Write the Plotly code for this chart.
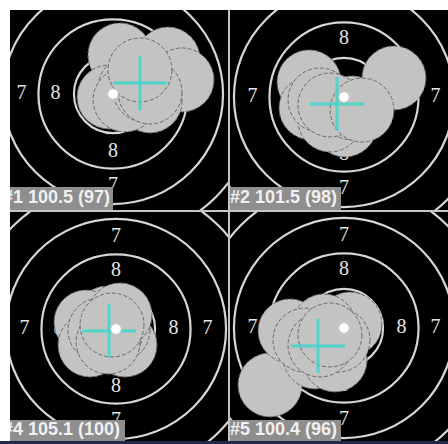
import plotly.graph_objects as go

W, H = 448, 444
S = 14.2  # pixels per mm

# ---- target definition (mm) ----
ring_radii = [2.75, 5.25, 7.75, 10.25, 12.75, 15.25]
ring_label_text = ["8", "7"]
ring_label_dist = [4.05, 6.45]
shot_radius = 2.25
ten_dot_radius = 0.37

# ---- series titles ----
series_titles = ["#1 100.5 (97)", "#2 101.5 (98)", "#4 105.1 (100)", "#5 100.4 (96)"]

# ---- shot coordinates (mm from target centre) ----
s1_x = [0.49, 3.87, 4.86, -0.28, 1.20, 2.61, 0.85, 2.25, 2.61, 1.90]
s1_y = [2.75, 2.46, 0.99, -0.21, 0.42, -0.49, -0.42, 0.28, 0.14, 1.69]

s2_x = [-2.46, 3.52, -2.32, 0.07, 0.07, -0.99, -1.69, 0.56, -0.99, 1.27]
s2_y = [1.06, 1.34, -0.77, -1.06, -1.97, -1.62, -0.21, -0.77, -0.56, -0.92]

s4_x = [-0.63, -2.11, -1.83, 0.63, 0.14, -0.42, -1.13, 0.28, -0.56, -0.28]
s4_y = [0.77, 0.49, -1.13, -1.13, -0.07, -0.42, -0.07, 0.99, -0.92, 0.28]

s5_x = [-5.21, -3.80, -2.04, 0.42, -1.41, -0.63, -0.42, -2.75, -1.69, -0.99]
s5_y = [-4.01, -0.21, -2.04, 0.28, 0.14, -2.25, -0.85, -0.85, -1.20, -0.49]

# group centres (mm) read from the cyan crosses
group_cx = [1.90, -0.49, -0.49, -1.83]
group_cy = [0.77, -0.49, -0.14, -1.27]

shots_x = [s1_x, s2_x, s4_x, s5_x]
shots_y = [s1_y, s2_y, s4_y, s5_y]

# ---- layout of panels (pixels) ----
panels = [
    dict(box=(10, 228, 10, 210), center=(113, 94), lab=(3, 113, 187, 210)),
    dict(box=(230, 448, 10, 210), center=(344, 97), lab=(230, 341, 187, 210)),
    dict(box=(10, 228, 212, 441), center=(116, 329), lab=(3, 125, 420, 441)),
    dict(box=(230, 448, 212, 441), center=(344, 328), lab=(230, 341, 420, 441)),
]

fig = go.Figure()
shapes = []
RING_COL = "#d6d6d6"

for i, p in enumerate(panels):
    k = "" if i == 0 else str(i + 1)
    xa, ya = "x" + k, "y" + k
    x0, x1, y0, y1 = p["box"]
    cx, cy = p["center"]
    xr = [(x0 - cx) / S, (x1 - cx) / S]
    yr = [(cy - y1) / S, (cy - y0) / S]
    fig.update_layout(**{
        "xaxis" + k: dict(domain=[x0 / W, x1 / W], range=xr,
                          visible=False, anchor=ya, fixedrange=True),
        "yaxis" + k: dict(domain=[1 - y1 / H, 1 - y0 / H], range=yr,
                          visible=False, anchor=xa, fixedrange=True),
    })

    def px2x(px):
        return (px - cx) / S

    def py2y(py):
        return (cy - py) / S

    # rings
    for r in ring_radii:
        shapes.append(dict(type="circle", xref=xa, yref=ya, x0=-r, x1=r, y0=-r, y1=r,
                           line=dict(color=RING_COL, width=2.2), layer="below"))

    # ring numbers (only those whose position lies inside the panel)
    tx, ty, tt = [], [], []
    for lab, d in zip(ring_label_text, ring_label_dist):
        for ux, uy in [(-d, 0), (d, 0), (0, d), (0, -d)]:
            if xr[0] + 0.4 < ux < xr[1] - 0.4 and yr[0] + 0.5 < uy < yr[1] - 0.5:
                tx.append(ux)
                ty.append(uy)
                tt.append(lab)
    fig.add_trace(go.Scatter(x=tx, y=ty, text=tt, mode="text", xaxis=xa, yaxis=ya,
                             textfont=dict(family="Liberation Serif", size=20, color="#e4e4e4"),
                             hoverinfo="skip", showlegend=False, cliponaxis=True))

    # label box + text
    lx0, lx1, ly0, ly1 = p["lab"]
    bx = [px2x(lx0), px2x(lx1), px2x(lx1), px2x(lx0), px2x(lx0)]
    by = [py2y(ly0), py2y(ly0), py2y(ly1), py2y(ly1), py2y(ly0)]
    fig.add_trace(go.Scatter(x=bx, y=by, mode="lines", fill="toself", fillcolor="#8e8e8e",
                             line=dict(width=0), xaxis=xa, yaxis=ya,
                             hoverinfo="skip", showlegend=False))
    fig.add_trace(go.Scatter(x=[px2x(lx0)], y=[py2y((ly0 + ly1) / 2)],
                             text=["<b>" + series_titles[i] + "</b>"], mode="text",
                             textposition="middle right", xaxis=xa, yaxis=ya,
                             textfont=dict(family="Liberation Sans", size=18, color="#f0f0f0"),
                             hoverinfo="skip", showlegend=False, cliponaxis=True))

    # shots
    for sx, sy in zip(shots_x[i], shots_y[i]):
        shapes.append(dict(type="circle", xref=xa, yref=ya,
                           x0=sx - shot_radius, x1=sx + shot_radius,
                           y0=sy - shot_radius, y1=sy + shot_radius,
                           fillcolor="#c3c3c3",
                           line=dict(color="#6a6a6a", width=1, dash="4px,2px"), layer="above"))

    # group centre cross
    a = 1.9
    gx, gy = group_cx[i], group_cy[i]
    shapes.append(dict(type="line", xref=xa, yref=ya, x0=gx - a, x1=gx + a, y0=gy, y1=gy,
                       line=dict(color="rgba(60,215,205,0.85)", width=3), layer="above"))
    shapes.append(dict(type="line", xref=xa, yref=ya, x0=gx, x1=gx, y0=gy - a, y1=gy + a,
                       line=dict(color="rgba(60,215,205,0.85)", width=3), layer="above"))

    # ten dot
    r10 = ten_dot_radius
    shapes.append(dict(type="circle", xref=xa, yref=ya, x0=-r10, x1=r10, y0=-r10, y1=r10,
                       fillcolor="white", line=dict(color="#cccccc", width=1), layer="above"))

# separators
shapes.append(dict(type="line", xref="paper", yref="paper", x0=229 / W, x1=229 / W,
                   y0=0, y1=1 - 10 / H,
                   line=dict(color="#c4c4c4", width=2), layer="above"))
shapes.append(dict(type="line", xref="paper", yref="paper", x0=10 / W, x1=1,
                   y0=1 - 211 / H, y1=1 - 211 / H,
                   line=dict(color="#c4c4c4", width=2), layer="above"))
# bottom strip
shapes.append(dict(type="rect", xref="paper", yref="paper", x0=0, x1=1, y0=0, y1=3 / H,
                   fillcolor="#1f2a46", line=dict(width=0), layer="above"))

fig.update_layout(width=W, height=H, margin=dict(l=0, r=0, t=0, b=0),
                  paper_bgcolor="white", plot_bgcolor="black", shapes=shapes,
                  showlegend=False)

fig.write_html("out.html", config={"displayModeBar": False},
               post_script="document.body.style.margin='0';document.body.style.overflow='hidden';")
